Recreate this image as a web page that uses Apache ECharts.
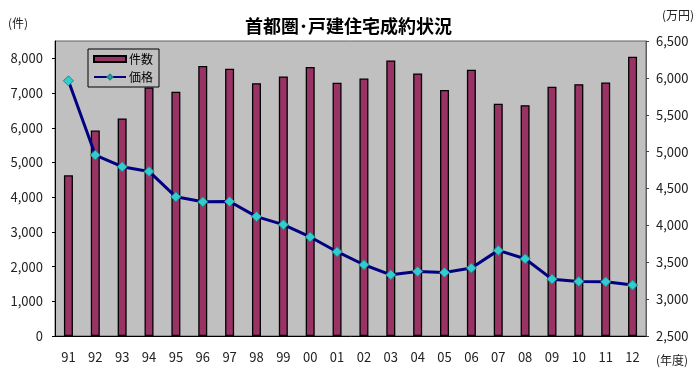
<!DOCTYPE html>
<html><head><meta charset="utf-8">
<script src="https://cdn.jsdelivr.net/npm/echarts@6/dist/echarts.min.js"></script>
<style>html,body{margin:0;padding:0;background:#fff}#c{width:700px;height:374px}</style>
</head><body><div id="c"></div>
<script>
var categories = ['91','92','93','94','95','96','97','98','99','00','01','02','03','04','05','06','07','08','09','10','11','12'];
var countValues = [4630,5920,6270,7160,7040,7780,7700,7285,7480,7750,7300,7420,7940,7565,7090,7670,6690,6650,7180,7255,7305,8045];
var priceValues = [5960,4953,4795,4731,4387,4319,4323,4119,4010,3843,3643,3466,3330,3375,3361,3421,3661,3548,3271,3239,3235,3190];
var seriesNames = ['件数','価格'];
var titleText = '首都圏･戸建住宅成約状況';
var leftUnit = '(件)', rightUnit = '(万円)', xUnit = '(年度)';

var FONT = '"Noto Sans CJK JP", "Noto Sans", sans-serif';
var chart = echarts.init(document.getElementById('c'), null, {renderer:'canvas'});
function comma(v){ return String(v).replace(/\B(?=(\d{3})+(?!\d))/g, ','); }
chart.setOption({
  animation:false,
  backgroundColor:'#ffffff',
  textStyle:{fontFamily:FONT},
  title:{text:titleText, left:240, top:12, textStyle:{fontFamily:FONT, fontSize:18, fontWeight:'bold', color:'#000'}},
  grid:{left:55, right:54, top:41, bottom:38, show:true, backgroundColor:'#c0c0c0', borderColor:'#606060', borderWidth:1},
  legend:{
    orient:'vertical', left:88, top:49, padding:[4,6,4,5], itemGap:6,
    itemWidth:32, itemHeight:6,
    borderColor:'#000', borderWidth:1, backgroundColor:'#c0c0c0',
    textStyle:{fontFamily:FONT, fontSize:12, color:'#000', padding:[0,0,0,-2]},
    data:[{name:seriesNames[0], icon:'rect'}, {name:seriesNames[1]}]
  },
  xAxis:{
    type:'category', data:categories, boundaryGap:true,
    axisLine:{lineStyle:{color:'#000', width:1}},
    axisTick:{inside:true, length:3, lineStyle:{color:'#000'}},
    axisLabel:{fontFamily:FONT, fontSize:13, color:'#222', margin:15}
  },
  yAxis:[
    {type:'value', min:0, max:8500, interval:1000,
     axisLine:{show:true, lineStyle:{color:'#000'}},
     axisTick:{show:true, length:3, lineStyle:{color:'#000'}},
     splitLine:{show:false},
     axisLabel:{fontFamily:FONT, fontSize:13, color:'#222', margin:12, showMaxLabel:false, formatter:comma}},
    {type:'value', min:2500, max:6500, interval:500, position:'right',
     axisLine:{show:true, lineStyle:{color:'#606060'}},
     axisTick:{show:true, length:3, lineStyle:{color:'#444'}},
     splitLine:{show:false},
     axisLabel:{fontFamily:FONT, fontSize:13, color:'#222', margin:10, formatter:comma}}
  ],
  series:[
    {name:seriesNames[0], type:'bar', yAxisIndex:0, data:countValues, barWidth:9,
     itemStyle:{color:'#993366', borderColor:'#000', borderWidth:1.3}},
    {name:seriesNames[1], type:'line', yAxisIndex:1, data:priceValues,
     symbol:'diamond', symbolSize:10,
     lineStyle:{color:'#000080', width:3},
     itemStyle:{color:'#33cccc', borderColor:'#208a8a', borderWidth:1}}
  ],
  graphic:[
    {type:'text', left:8, top:17, style:{text:leftUnit, font:'12px '+FONT, fill:'#222'}},
    {type:'text', left:662, top:9, style:{text:rightUnit, font:'12px '+FONT, fill:'#222'}},
    {type:'text', left:656, top:354, style:{text:xUnit, font:'12px '+FONT, fill:'#222'}}
  ]
});
</script></body></html>
